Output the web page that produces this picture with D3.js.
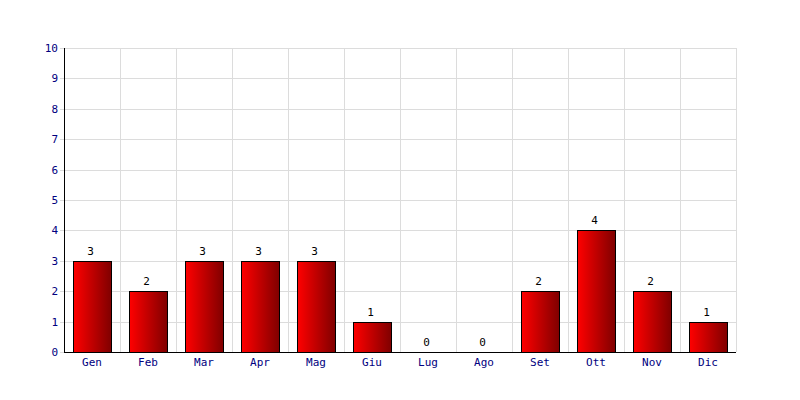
<!DOCTYPE html>
<html><head><meta charset="utf-8">
<script src="https://cdn.jsdelivr.net/npm/d3@7"></script>
<style>body{margin:0;background:#fff}svg{display:block}</style>
</head><body><svg id="c" width="800" height="400"></svg>
<script>
const months = ["Gen","Feb","Mar","Apr","Mag","Giu","Lug","Ago","Set","Ott","Nov","Dic"];
const values = [3,2,3,3,3,1,0,0,2,4,2,1];
const yTicks = [0,1,2,3,4,5,6,7,8,9,10];

const svg = d3.select("#c");
const pLeft = 64, pRight = 736, pTop = 48, pBottom = 352;
const x = d3.scaleBand().domain(months).range([pLeft, pRight]).paddingInner(0.32).paddingOuter(0.16);
const xg = d3.scaleBand().domain(months).range([pLeft, pRight]);
const y = d3.scaleLinear().domain([0, 10]).range([pBottom, pTop]);
const font = "'DejaVu Sans Mono', monospace";

const defs = svg.append("defs");
const g = defs.append("linearGradient").attr("id","grad").attr("x1","0").attr("x2","1").attr("y1","0").attr("y2","0");
g.append("stop").attr("offset","0").attr("stop-color","#ff0000");
g.append("stop").attr("offset","1").attr("stop-color","#7f0000");

// grid
svg.append("g").selectAll("line").data(yTicks).join("line")
  .attr("x1", pLeft - 4).attr("x2", pRight)
  .attr("y1", d => Math.round(y(d)) + 0.5).attr("y2", d => Math.round(y(d)) + 0.5)
  .attr("stroke", "#dcdcdc");
svg.append("g").selectAll("line").data(months.concat(["__end"])).join("line")
  .attr("x1", d => (d === "__end" ? pRight : xg(d)) + 0.5)
  .attr("x2", d => (d === "__end" ? pRight : xg(d)) + 0.5)
  .attr("y1", pTop).attr("y2", pBottom)
  .attr("stroke", "#dcdcdc");

// bars
svg.append("g").selectAll("rect").data(months.map((m,i)=>({m, v: values[i]})).filter(d => d.v > 0)).join("rect")
  .attr("x", d => Math.round(x(d.m)) + 0.5)
  .attr("y", d => Math.round(y(d.v)) + 0.5)
  .attr("width", Math.round(x.bandwidth()))
  .attr("height", d => Math.round(y(0)) - Math.round(y(d.v)))
  .attr("fill", "url(#grad)").attr("stroke", "#000");

// value labels
svg.append("g").selectAll("text").data(months.map((m,i)=>({m, v: values[i]}))).join("text")
  .attr("x", d => xg(d.m) + xg.bandwidth()/2 - 1.5)
  .attr("y", d => y(d.v) - 6)
  .attr("text-anchor", "middle")
  .attr("font-family", font).attr("font-size", 11).attr("fill", "#000")
  .text(d => d.v);

// axes
svg.append("line").attr("x1", pLeft + 0.5).attr("x2", pLeft + 0.5).attr("y1", pTop).attr("y2", pBottom + 1).attr("stroke", "#000");
svg.append("line").attr("x1", pLeft).attr("x2", pRight).attr("y1", pBottom + 0.5).attr("y2", pBottom + 0.5).attr("stroke", "#000");

svg.append("g").selectAll("text").data(yTicks).join("text")
  .attr("x", pLeft - 6).attr("y", d => y(d) + 4)
  .attr("text-anchor", "end")
  .attr("font-family", font).attr("font-size", 11).attr("fill", "#000080")
  .text(d => d);

svg.append("g").selectAll("text").data(months).join("text")
  .attr("x", d => xg(d) + xg.bandwidth()/2)
  .attr("y", pBottom + 14)
  .attr("text-anchor", "middle")
  .attr("font-family", font).attr("font-size", 11).attr("fill", "#000080")
  .text(d => d);
</script></body></html>
